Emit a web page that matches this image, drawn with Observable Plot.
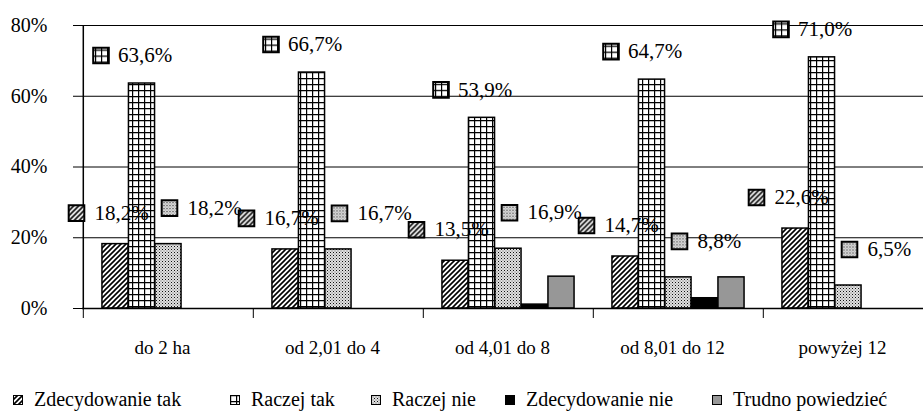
<!DOCTYPE html>
<html><head><meta charset="utf-8">
<script src="https://cdn.jsdelivr.net/npm/d3@7"></script>
<script src="https://cdn.jsdelivr.net/npm/@observablehq/plot@0.6"></script>
<style>
body{margin:0;background:#fff;color:#000;font-family:"Liberation Serif","Times New Roman",serif;}
#wrap{position:relative;width:923px;height:411px;overflow:hidden;}
#chart svg{display:block;}
#legend{position:absolute;left:0;top:389px;width:923px;height:20px;font-size:20px;}
.item{position:absolute;top:0;height:20px;}
.item svg{position:absolute;top:6px;left:0;}
.item span{position:absolute;left:21px;top:0;line-height:20px;white-space:nowrap;}
</style></head><body>
<svg width="0" height="0" style="position:absolute">
<defs>
<pattern id="p-diag" patternUnits="userSpaceOnUse" width="5" height="5">
<rect width="5" height="5" fill="#fff"/>
<path d="M-1,6 L6,-1 M-2,2 L2,-2 M3,7 L7,3" stroke="#000" stroke-width="1.6"/>
</pattern>
<pattern id="p-grid" patternUnits="userSpaceOnUse" width="6" height="6">
<rect width="6" height="6" fill="#fff"/>
<path d="M0,0.6H6 M0.6,0V6" stroke="#000" stroke-width="1.2"/>
</pattern>
<pattern id="p-dots" patternUnits="userSpaceOnUse" width="3" height="3">
<rect width="3" height="3" fill="#e0e0e0"/>
<rect x="0" y="0" width="1" height="1" fill="#111"/>
<rect x="1.5" y="1.5" width="1" height="1" fill="#666"/>
</pattern>
</defs>
</svg>
<div id="wrap"><div id="chart"></div><div id="legend"></div></div>
<script>
const categories = ["do 2 ha", "od 2,01 do 4", "od 4,01 do 8", "od 8,01 do 12", "powyżej 12"];
const seriesNames = ["Zdecydowanie tak", "Raczej tak", "Raczej nie", "Zdecydowanie nie", "Trudno powiedzieć"];
const zdecydowanieTak = [18.2, 16.7, 13.5, 14.7, 22.6];
const raczejTak = [63.6, 66.7, 53.9, 64.7, 71.0];
const raczejNie = [18.2, 16.7, 16.9, 8.8, 6.5];
const zdecydowanieNie = [0, 0, 1.1, 2.9, 0];
const trudnoPowiedziec = [0, 0, 9.0, 8.8, 0];
const yTicks = [0, 20, 40, 60, 80];

const seriesValues = [zdecydowanieTak, raczejTak, raczejNie, zdecydowanieNie, trudnoPowiedziec];
const fills = ["url(#p-diag)", "url(#p-grid)", "url(#p-dots)", "#000", "#979797"];
const fmt = v => v.toFixed(1).replace(".", ",") + "%";
const FONT = "\"Liberation Serif\", \"Times New Roman\", serif";

const W = 923, H = 370;
const xRange = [82, 934];
const bw = (xRange[1] - xRange[0]) / categories.length;
const inner = d3.scaleBand().domain(seriesNames).range([0, bw]).paddingInner(0).paddingOuter(0.715);

const rows = seriesNames.flatMap((s, k) => categories.map((c, i) => ({series: s, k, cat: c, value: seriesValues[k][i]})));

const barMarks = seriesNames.map((s, k) => Plot.barY(rows.filter(d => d.k === k && d.value > 0), {
  x: "cat", y: "value", fill: fills[k], stroke: "#000", strokeWidth: 1.5,
  insetLeft: inner(s), insetRight: bw - inner(s) - inner.bandwidth()
}));

const keyDx = [-92, -67.5, 1], textDx = [-74, -50.5, 19], labDy = [-31, -28, -36];
const labelMarks = [0, 1, 2].flatMap(k => {
  const d = rows.filter(r => r.k === k);
  return [
    Plot.dot(d, {x: "cat", y: "value", symbol: "square", r: 8.8, fill: fills[k], stroke: "#000", strokeWidth: 2, dx: keyDx[k], dy: labDy[k]}),
    Plot.text(d, {x: "cat", y: "value", text: r => fmt(r.value), textAnchor: "start", dx: textDx[k], dy: labDy[k], fontSize: 21, fill: "#000"})
  ];
});

const chart = Plot.plot({
  width: W, height: H,
  marginLeft: 82, marginRight: 0, marginTop: 25, marginBottom: 62,
  style: {fontFamily: FONT, color: "#000", background: "#fff"},
  x: {domain: categories, range: xRange, padding: 0, label: null},
  y: {domain: [0, 80], label: null},
  marks: [
    Plot.ruleY(yTicks, {stroke: "#000", strokeWidth: 1}),
    ...barMarks,
    Plot.ruleY([0], {stroke: "#000", strokeWidth: 1.5}),
    Plot.ruleX([categories[0]], {x: d => d, dx: -bw / 2, stroke: "#000", strokeWidth: 1.5}),
    Plot.ruleX(categories, {x: d => d, dx: -bw / 2, y1: 0, y2: 0, insetTop: 0, insetBottom: -10, stroke: "#000", strokeWidth: 1}),
    Plot.axisY({ticks: yTicks, tickSize: 9, tickPadding: 26, tickFormat: d => d + "%", fontSize: 20, stroke: "#000", label: null}),
    Plot.axisX({tickSize: 0, tickPadding: 32, fontSize: 19, dx: -6, label: null}),
    ...labelMarks
  ]
});
chart.querySelectorAll("text").forEach(t => t.setAttribute("font-family", FONT));
document.getElementById("chart").appendChild(chart);

const legendX = [13, 230, 371, 505, 712];
const legend = document.getElementById("legend");
seriesNames.forEach((s, k) => {
  const it = document.createElement("div");
  it.className = "item";
  it.style.left = legendX[k] + "px";
  it.innerHTML = `<svg width="10" height="10"><rect x="0.5" y="0.5" width="9" height="9" fill="${fills[k]}" stroke="#000" stroke-width="1"/></svg><span>${s}</span>`;
  legend.appendChild(it);
});
</script>
</body></html>
